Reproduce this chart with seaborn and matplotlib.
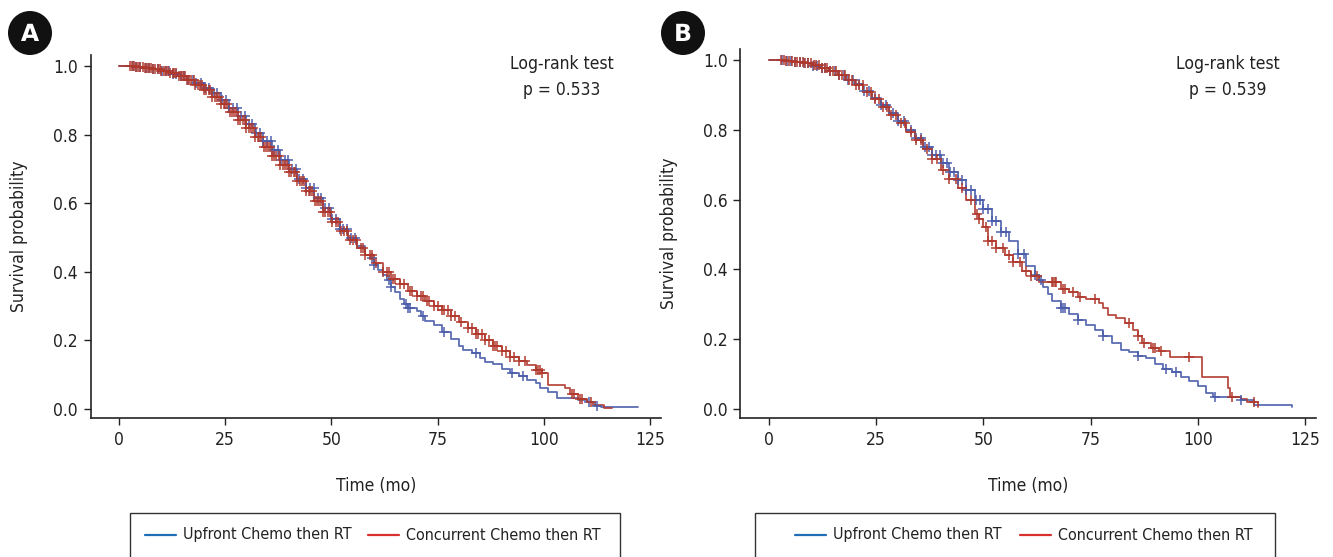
import numpy as np
import pandas as pd
import matplotlib
matplotlib.use('Agg')
import matplotlib.pyplot as plt
import seaborn as sns
from matplotlib.lines import Line2D
from matplotlib.patches import Circle, Rectangle
import matplotlib.patheffects as pe
from matplotlib import font_manager as fm

# ---------------- data ----------------
series_names = ["Upfront Chemo then RT", "Concurrent Chemo then RT"]
panel_labels = ["A", "B"]
pvalues = ["p = 0.533", "p = 0.539"]
x_ticks = [0, 25, 50, 75, 100, 125]
y_ticks = [0.0, 0.2, 0.4, 0.6, 0.8, 1.0]

# Panel A - Upfront
a_up_t = [0, 4, 6, 8, 10, 12, 14, 16, 18, 20, 22, 24, 26, 28, 30, 32, 34, 36, 38, 40,
          42, 44, 46, 48, 50, 52, 54, 56, 58, 59, 60, 61, 62, 63, 64, 65, 66, 67, 68,
          70, 71, 72, 74, 76, 78, 80, 81, 83, 85, 86, 88, 90, 92, 94, 96, 98, 99, 101,
          103, 108, 110, 112, 113.5, 122]
a_up_s = [1.0, 0.997, 0.993, 0.99, 0.985, 0.978, 0.97, 0.96, 0.95, 0.937, 0.92, 0.9,
          0.878, 0.855, 0.83, 0.805, 0.78, 0.755, 0.725, 0.70, 0.672, 0.645, 0.615,
          0.585, 0.555, 0.525, 0.50, 0.475, 0.45, 0.44, 0.42, 0.405, 0.39, 0.375, 0.355,
          0.34, 0.32, 0.305, 0.295, 0.285, 0.27, 0.258, 0.245, 0.225, 0.205, 0.185,
          0.172, 0.162, 0.15, 0.138, 0.13, 0.118, 0.105, 0.095, 0.085, 0.075, 0.062,
          0.05, 0.032, 0.025, 0.02, 0.01, 0.005, 0.005]
a_up_cens = [3.2, 4.1, 5.0, 6.3, 7.1, 8.0, 9.2, 10.1, 11.0, 11.8, 12.7, 13.5, 14.6, 15.4,
             16.3, 17.5, 18.2, 19.4, 20.3, 21.1, 22.4, 23.0, 24.2, 25.1, 26.0, 26.9, 27.8,
             28.6, 29.7, 30.5, 31.3, 32.2, 33.1, 34.0, 34.8, 35.7, 36.5, 37.3, 38.2,
             39.0, 39.8, 40.7, 41.6, 42.4, 43.3, 44.1, 45.0, 45.9, 46.8, 47.6, 48.5,
             49.4, 50.2, 51.1, 52.0, 52.8, 53.7, 54.6, 55.5, 59.5, 60.0, 63.5, 64.0,
             67.5, 68.0, 68.5, 71.5, 76.5, 84.0, 92.5, 95.0, 110.5, 112.5]

# Panel A - Concurrent
a_cc_t = [0, 4, 6, 8, 10, 12, 14, 16, 18, 20, 22, 24, 26, 28, 30, 32, 34, 36, 38, 40,
          42, 44, 46, 48, 50, 52, 54, 56, 58, 60, 62, 64, 66, 68, 70, 72, 74, 76, 78,
          80, 82, 84, 86, 88, 90, 92, 94, 96, 98, 99.5, 101, 105, 106, 108, 110, 111.5,
          114, 116]
a_cc_s = [1.0, 0.997, 0.994, 0.99, 0.986, 0.98, 0.97, 0.958, 0.945, 0.93, 0.91, 0.89,
          0.867, 0.843, 0.818, 0.792, 0.765, 0.738, 0.71, 0.69, 0.665, 0.635, 0.605,
          0.575, 0.545, 0.518, 0.492, 0.47, 0.45, 0.425, 0.40, 0.38, 0.365, 0.345, 0.33,
          0.315, 0.30, 0.29, 0.27, 0.255, 0.235, 0.218, 0.20, 0.183, 0.168, 0.152, 0.14,
          0.128, 0.115, 0.105, 0.07, 0.06, 0.045, 0.03, 0.02, 0.012, 0.003, 0.003]
a_cc_cens = [2.6, 3.0, 3.5, 4.1, 4.4, 5.0, 5.6, 6.1, 6.5, 7.0, 7.6, 8.0, 8.5, 9.1, 9.6,
             10.0, 10.5, 11.1, 11.5, 12.0, 12.6, 13.0, 13.5, 14.1, 14.6, 15.0, 15.5,
             16.1, 16.5, 17.0, 17.6, 18.0, 18.5, 19.1, 19.6, 20.0, 20.5, 21.1, 21.5,
             22.0, 22.6, 23.0, 23.5, 24.1, 24.6, 25.0, 25.5, 26.1, 26.5, 27.0, 27.6,
             28.0, 28.5, 29.1, 29.6, 30.0, 30.5, 31.1, 31.5, 32.0, 32.6, 33.0, 33.5,
             34.1, 34.6, 35.0, 35.5, 36.1, 36.5, 37.0, 37.6, 38.0, 38.5, 39.1, 39.6,
             40.0, 40.5, 41.1, 41.5, 42.0, 42.6, 43.0, 43.5, 44.1, 44.6, 45.0, 45.5,
             46.1, 46.5, 47.0, 47.6, 48.0, 48.5, 49.1, 49.6, 50.2, 51.0, 51.6, 52.2,
             53.0, 53.6, 54.3, 55.0, 55.7, 57.0, 57.5, 58.0, 59.0, 59.5, 60.5, 62.0,
             63.0, 63.5, 64.5, 65.0, 66.0, 67.0, 68.5, 69.0, 70.0, 71.0, 71.5, 72.5,
             73.0, 74.0, 75.0, 76.0, 76.5, 77.5, 78.0, 79.0, 80.5, 82.0, 83.0, 84.0,
             84.5, 85.5, 86.0, 87.0, 88.0, 88.5, 89.0, 90.0, 91.0, 92.0, 93.0, 94.0,
             95.5, 98.0, 98.5, 99.0, 99.5, 106.5, 107.0, 108.5, 109.0, 111.0]

# Panel B - Upfront
b_up_t = [0, 4, 6, 8, 10, 12, 14, 16, 18, 20, 22, 24, 26, 28, 30, 32, 34, 36, 38, 40,
          42, 44, 46, 48, 50, 52, 54, 56, 58, 60, 62, 63, 64, 65, 66, 68, 70, 72, 74,
          76, 78, 80, 82, 84, 86, 88, 90, 92, 94, 96, 98, 100, 102, 103.5, 108, 110,
          113, 122]
b_up_s = [1.0, 0.998, 0.995, 0.99, 0.984, 0.976, 0.968, 0.957, 0.944, 0.93, 0.91, 0.89,
          0.87, 0.848, 0.825, 0.80, 0.775, 0.75, 0.728, 0.705, 0.68, 0.655, 0.628, 0.60,
          0.572, 0.54, 0.508, 0.48, 0.445, 0.41, 0.385, 0.37, 0.35, 0.33, 0.31, 0.29,
          0.272, 0.255, 0.24, 0.225, 0.21, 0.19, 0.17, 0.162, 0.152, 0.145, 0.13, 0.115,
          0.105, 0.092, 0.08, 0.065, 0.045, 0.034, 0.034, 0.025, 0.011, 0.006]
b_up_cens = [3.0, 4.2, 5.1, 6.0, 7.3, 8.1, 9.0, 10.2, 11.1, 12.3, 13.0, 14.2, 15.5,
             16.4, 17.6, 18.5, 19.7, 21.0, 22.2, 23.4, 24.6, 26.0, 27.3, 28.8, 30.1,
             31.5, 33.0, 34.3, 35.5, 36.4, 37.3, 38.1, 38.9, 39.8, 40.6, 41.5, 42.3,
             43.2, 44.0, 45.1, 46.0, 47.0, 48.2, 49.1, 50.0, 51.0, 52.1, 53.0, 54.2,
             55.3, 58.0, 59.5, 62.0, 63.5, 68.0, 68.5, 69.0, 72.0, 78.0, 86.0, 92.5,
             95.0, 104.0, 110.0]

# Panel B - Concurrent
b_cc_t = [0, 4, 6, 8, 10, 12, 14, 16, 18, 20, 22, 24, 26, 28, 30, 32, 34, 36, 38, 40,
          42, 44, 46, 48, 49, 50, 51, 53, 55, 57, 59, 61, 63, 67, 68, 70, 72, 74, 77,
          78, 79, 81, 83, 85, 86, 87, 89, 91, 93.5, 100, 101, 106, 107, 107.5, 110,
          111.5, 114]
b_cc_s = [1.0, 0.998, 0.995, 0.99, 0.985, 0.978, 0.968, 0.957, 0.943, 0.928, 0.908,
          0.888, 0.866, 0.843, 0.82, 0.795, 0.77, 0.745, 0.715, 0.685, 0.66, 0.632,
          0.60, 0.56, 0.545, 0.52, 0.48, 0.46, 0.44, 0.42, 0.395, 0.38, 0.365, 0.365,
          0.345, 0.335, 0.32, 0.315, 0.305, 0.29, 0.27, 0.262, 0.245, 0.225, 0.21, 0.19,
          0.175, 0.165, 0.15, 0.15, 0.092, 0.092, 0.06, 0.035, 0.03, 0.02, 0.006]
b_cc_cens = [2.8, 3.4, 4.0, 4.7, 5.3, 6.0, 6.6, 7.2, 7.9, 8.5, 9.1, 9.8, 10.4, 11.0,
             11.7, 12.3, 13.0, 13.6, 14.3, 15.0, 15.7, 16.4, 17.1, 17.8, 18.6, 19.4,
             20.2, 21.0, 21.9, 22.8, 23.7, 24.6, 25.6, 26.5, 27.5, 28.5, 29.6, 30.7,
             31.8, 33.0, 34.2, 35.5, 36.8, 38.0, 39.2, 40.5, 42.0, 43.5, 45.0, 47.0,
             48.5, 49.0, 50.5, 51.0, 52.0, 53.0, 54.5, 56.0, 57.0, 58.5, 60.0, 61.0,
             62.5, 66.0, 66.3, 66.6, 67.0, 68.5, 69.0, 71.0, 72.5, 76.0, 84.0, 86.0,
             87.5, 89.5, 90.0, 91.5, 98.0, 108.0, 113.0]

panels = [
    dict(up=(a_up_t, a_up_s, a_up_cens), cc=(a_cc_t, a_cc_s, a_cc_cens)),
    dict(up=(b_up_t, b_up_s, b_up_cens), cc=(b_cc_t, b_cc_s, b_cc_cens)),
]

# ---------------- styling ----------------
sns.set_theme(style='white')
names = {f.name for f in fm.fontManager.ttflist}
if 'Liberation Sans Narrow' in names:
    FONT = ['Liberation Sans Narrow', 'DejaVu Sans']
    STRETCH = 'normal'
else:
    FONT = ['DejaVu Sans']
    STRETCH = 'condensed'
plt.rcParams['font.family'] = FONT
plt.rcParams['font.stretch'] = STRETCH
plt.rcParams['axes.edgecolor'] = '#222222'

CURVE_COLORS = ['#4a5caa', '#b0382c']
LEGEND_COLORS = ['#1f6db3', '#d8302f']
TXT = '#222222'
FS = 12.5
FS_LEG = 11.5

W, H = 1333, 557
fig = plt.figure(figsize=(W / 100, H / 100), dpi=100)


def rect(l, r, t, b):
    return [l / W, 1 - b / H, (r - l) / W, (b - t) / H]


XLIM = (-6.7, 127.5)
YLIM = (-0.027, 1.032)
axes_px = [(90.5, 660.9, 55.0, 418.3), (740.3, 1315.7, 48.8, 418.4)]
label_px = [(30, 33), (683, 33)]
logrank_x = [562, 1228]
legend_px = [(130, 620, 145, 368), (755, 1275, 795, 1020)]


def step_value(times, surv, t):
    idx = np.searchsorted(np.asarray(times), t, side='right') - 1
    return np.asarray(surv)[idx]


for i, pan in enumerate(panels):
    ax = fig.add_axes(rect(*axes_px[i]))
    for j, key in enumerate(['up', 'cc']):
        t, s, c = pan[key]
        df = pd.DataFrame({'time': t, 'surv': s})
        sns.lineplot(data=df, x='time', y='surv', ax=ax, drawstyle='steps-post',
                     estimator=None, sort=False, color=CURVE_COLORS[j], linewidth=1.3,
                     alpha=0.9)
        cdf = pd.DataFrame({'time': c, 'surv': step_value(t, s, c)})
        sns.scatterplot(data=cdf, x='time', y='surv', ax=ax, marker='+', s=60,
                        color=CURVE_COLORS[j], linewidth=1.2, alpha=0.9, zorder=3)
    ax.set_xlim(*XLIM)
    ax.set_ylim(*YLIM)
    ax.set_xticks(x_ticks)
    ax.set_yticks(y_ticks)
    ax.set_xticklabels([str(v) for v in x_ticks])
    ax.set_yticklabels([f"{v:.1f}" for v in y_ticks])
    ax.tick_params(axis='both', which='major', length=5, width=1.0, color=TXT,
                   labelsize=FS, labelcolor=TXT, pad=4, direction='out')
    ax.tick_params(axis='both', bottom=True, left=True)
    for sp in ['top', 'right']:
        ax.spines[sp].set_visible(False)
    for sp in ['left', 'bottom']:
        ax.spines[sp].set_linewidth(1.2)
        ax.spines[sp].set_color(TXT)
    ax.set_xlabel('Time (mo)', fontsize=FS, color=TXT, labelpad=20)
    ax.set_ylabel('Survival probability', fontsize=FS, color=TXT, labelpad=18)
    ax.grid(False)

    # log-rank annotation
    fig.text(logrank_x[i] / W, 1 - 64 / H, 'Log-rank test', ha='center', va='center',
             fontsize=FS, color=TXT)
    fig.text(logrank_x[i] / W, 1 - 90 / H, pvalues[i], ha='center', va='center',
             fontsize=FS, color=TXT)

    # panel label
    cx, cy = label_px[i]
    circ = Circle((cx / 100, (H - cy) / 100), 0.22, transform=fig.dpi_scale_trans,
                  facecolor='#111111', edgecolor='none')
    fig.patches.append(circ)
    fig.text(cx / W, 1 - (cy + 1) / H, panel_labels[i], ha='center', va='center',
             fontsize=17, fontweight='bold', color='white', family=['DejaVu Sans'],
             stretch='normal',
             path_effects=[pe.withStroke(linewidth=2.0, foreground='#111111')])

    # legend box
    l, r, x1, x2 = legend_px[i]
    box = Rectangle((l / W, -0.1), (r - l) / W, 0.1 + 1 - 513 / H,
                    transform=fig.transFigure, facecolor='white', edgecolor='#333333',
                    linewidth=1.0, clip_on=False)
    fig.patches.append(box)
    ly = 1 - 535 / H
    for k in range(2):
        xs = [x1, x2][k]
        fig.lines.append(Line2D([xs / W, (xs + 31) / W], [ly, ly],
                                transform=fig.transFigure, color=LEGEND_COLORS[k],
                                linewidth=1.6))
        fig.text((xs + 38) / W, ly, series_names[k], ha='left', va='center',
                 fontsize=FS_LEG, color=TXT)

fig.savefig('out.png', dpi=100)
